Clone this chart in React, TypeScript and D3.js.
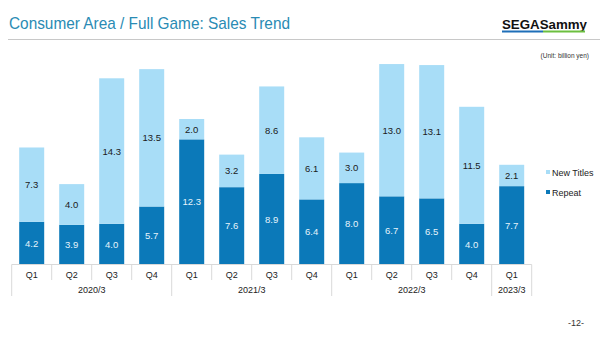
import React from "react";
import * as d3 from "d3";

const quarters = ["Q1","Q2","Q3","Q4","Q1","Q2","Q3","Q4","Q1","Q2","Q3","Q4","Q1"];
const years = ["2020/3","2021/3","2022/3","2023/3"];
const yearCounts = [4,4,4,1];
const repeat = [4.2,3.9,4.0,5.7,12.3,7.6,8.9,6.4,8.0,6.7,6.5,4.0,7.7];
const newTitles = [7.3,4.0,14.3,13.5,2.0,3.2,8.6,6.1,3.0,13.0,13.1,11.5,2.1];
const seriesNames = ["New Titles","Repeat"];

const C_REPEAT = "#0b79b9";
const C_NEW = "#a8ddf7";
const FONT = "Liberation Sans, Arial, sans-serif";

export default function App() {
  const W = 600, H = 338;
  const idx = quarters.map((_, i) => String(i));
  const x = d3.scaleBand<string>().domain(idx).range([11.7, 531.7]).paddingInner(0.375).paddingOuter(0.1875);
  const y = d3.scaleLinear().domain([0, 20]).range([264.5, 61]);
  const step = x.step();
  const x0 = 11.7;
  const stacked = d3.stack<any>().keys(["repeat","newTitles"])(
    quarters.map((_, i) => ({ repeat: repeat[i], newTitles: newTitles[i] }))
  );
  const colors = [C_REPEAT, C_NEW];
  const yearBounds: number[] = [0];
  yearCounts.forEach((c) => yearBounds.push(yearBounds[yearBounds.length - 1] + c));

  return (
    <svg width={W} height={H} style={{ position: "absolute", left: 0, top: 0, background: "#fff" }} fontFamily={FONT}>
      <text x={9} y={28.5} fontSize={17} fill="#2a8bb4" textLength={281} lengthAdjust="spacingAndGlyphs">Consumer Area / Full Game: Sales Trend</text>
      <line x1={8} x2={600} y1={39.5} y2={39.5} stroke="#c8c8c8" strokeWidth={1} />
      <text x={502} y={29} fontSize={13.5} fontWeight="bold" fill="#111" textLength={85} lengthAdjust="spacingAndGlyphs" fontFamily="Liberation Sans, Arial">SEGASammy</text>
      <rect x={502} y={30.5} width={41} height={2} fill="#1f6fb8" />
      <rect x={543} y={30.5} width={42} height={2} fill="#6cbf3f" />
      <text x={589} y={58} fontSize={6.5} textAnchor="end" fill="#333">(Unit: billion yen)</text>

      {stacked.map((s, si) => (
        <g key={si}>
          {s.map((d, i) => (
            <rect key={i} x={x(String(i))} width={x.bandwidth()} y={y(d[1])} height={y(d[0]) - y(d[1])} fill={colors[si]} />
          ))}
        </g>
      ))}
      {stacked.map((s, si) => (
        <g key={"l" + si}>
          {s.map((d, i) => (
            <text key={i} x={(x(String(i)) as number) + x.bandwidth() / 2} y={(y(d[0]) + y(d[1])) / 2 + 3.5}
              fontSize={9.5} textAnchor="middle" fill={si === 0 ? "#e8f4fb" : "#1a1a1a"}>
              {(si === 0 ? repeat[i] : newTitles[i]).toFixed(1)}
            </text>
          ))}
        </g>
      ))}

      <line x1={x0} x2={x0 + step * quarters.length} y1={264.5} y2={264.5} stroke="#d9d9d9" />
      {quarters.map((q, i) => (
        <g key={"q" + i}>
          <text x={(x(String(i)) as number) + x.bandwidth() / 2} y={278} fontSize={9} textAnchor="middle" fill="#222">{q}</text>
        </g>
      ))}
      {d3.range(quarters.length + 1).map((i) => {
        const isYear = yearBounds.includes(i);
        return <line key={"t" + i} x1={x0 + i * step} x2={x0 + i * step} y1={264.5} y2={isYear ? 296 : 280} stroke="#d9d9d9" />;
      })}
      {years.map((yr, j) => (
        <text key={yr} x={x0 + ((yearBounds[j] + yearBounds[j + 1]) / 2) * step} y={293} fontSize={9} textAnchor="middle" fill="#222">{yr}</text>
      ))}

      {seriesNames.map((n, i) => (
        <g key={n}>
          <rect x={546} y={170 + i * 20} width={4} height={4} fill={i === 0 ? C_NEW : C_REPEAT} />
          <text x={552} y={176 + i * 20} fontSize={9} fill="#222">{n}</text>
        </g>
      ))}
      <text x={568} y={326} fontSize={9} fill="#333">-12-</text>
    </svg>
  );
}
